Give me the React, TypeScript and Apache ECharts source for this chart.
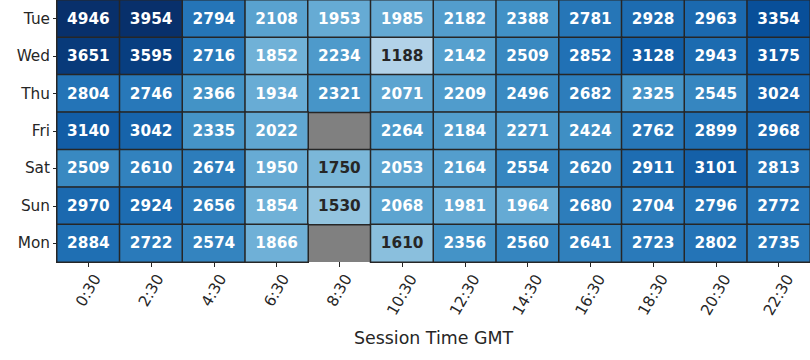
import React, { useEffect, useRef } from "react";
import * as echarts from "echarts";

const hours = ["0:30", "2:30", "4:30", "6:30", "8:30", "10:30", "12:30", "14:30", "16:30", "18:30", "20:30", "22:30"];
const days = ["Tue", "Wed", "Thu", "Fri", "Sat", "Sun", "Mon"];

const tue = [4946, 3954, 2794, 2108, 1953, 1985, 2182, 2388, 2781, 2928, 2963, 3354];
const wed = [3651, 3595, 2716, 1852, 2234, 1188, 2142, 2509, 2852, 3128, 2943, 3175];
const thu = [2804, 2746, 2366, 1934, 2321, 2071, 2209, 2496, 2682, 2325, 2545, 3024];
const fri = [3140, 3042, 2335, 2022, null, 2264, 2184, 2271, 2424, 2762, 2899, 2968];
const sat = [2509, 2610, 2674, 1950, 1750, 2053, 2164, 2554, 2620, 2911, 3101, 2813];
const sun = [2970, 2924, 2656, 1854, 1530, 2068, 1981, 1964, 2680, 2704, 2796, 2772];
const mon = [2884, 2722, 2574, 1866, null, 1610, 2356, 2560, 2641, 2723, 2802, 2735];

const rows: (number | null)[][] = [tue, wed, thu, fri, sat, sun, mon];

const BLUES = ["#f7fbff", "#deebf7", "#c6dbef", "#9ecae1", "#6baed6", "#4292c6", "#2171b5", "#08519c", "#08306b"];
const VMIN = 0;
const VMAX = 3800;

function hexToRgb(h: string): number[] {
  return [parseInt(h.slice(1, 3), 16), parseInt(h.slice(3, 5), 16), parseInt(h.slice(5, 7), 16)];
}

function bluesColor(v: number): number[] {
  let t = (v - VMIN) / (VMAX - VMIN);
  t = Math.max(0, Math.min(1, t));
  const pos = t * (BLUES.length - 1);
  const i = Math.min(BLUES.length - 2, Math.floor(pos));
  const f = pos - i;
  const a = hexToRgb(BLUES[i]);
  const b = hexToRgb(BLUES[i + 1]);
  return [0, 1, 2].map((k) => Math.round(a[k] + (b[k] - a[k]) * f));
}

function lum(rgb: number[]): number {
  const lin = rgb.map((c) => {
    const s = c / 255;
    return s <= 0.03928 ? s / 12.92 : Math.pow((s + 0.055) / 1.055, 2.4);
  });
  return 0.2126 * lin[0] + 0.7152 * lin[1] + 0.0722 * lin[2];
}

export default function App() {
  const ref = useRef<HTMLDivElement>(null);
  useEffect(() => {
    document.body.style.margin = "0";
    if (!ref.current) return;
    const chart = echarts.init(ref.current, null, { renderer: "svg" });
    const data: any[] = [];
    rows.forEach((row, yi) => {
      row.forEach((v, xi) => {
        if (v === null) return;
        const rgb = bluesColor(v);
        const txt = lum(rgb) > 0.408 ? "#262626" : "#ffffff";
        data.push({
          value: [xi, yi, v],
          label: { color: txt },
        });
      });
    });
    const tickFont = { fontFamily: "DejaVu Sans", fontSize: 15.3, color: "#262626" };
    chart.setOption({
      animation: false,
      backgroundColor: "#ffffff",
      grid: {
        left: 57,
        right: 0,
        top: 0,
        bottom: 98,
        show: true,
        backgroundColor: "#808080",
        borderWidth: 0,
      },
      visualMap: {
        type: "continuous",
        show: false,
        min: VMIN,
        max: VMAX,
        dimension: 2,
        inRange: { color: BLUES },
        outOfRange: { color: "#08306b" },
      },
      xAxis: {
        type: "category",
        data: hours,
        name: "Session Time GMT",
        nameLocation: "middle",
        nameGap: 67,
        nameTextStyle: { fontFamily: "DejaVu Sans", fontSize: 17.4, color: "#262626" },
        axisLine: { show: false },
        axisTick: { show: true, alignWithLabel: true, length: 5, lineStyle: { color: "#262626", width: 1 } },
        axisLabel: {
          rotate: 60,
          align: "center",
          verticalAlign: "middle",
          margin: 33,
          ...tickFont,
          formatter: (v: string) => (v.length <= 4 ? `{s|${v}}` : `{l|${v}}`),
          rich: {
            s: { ...tickFont, padding: [0, 0, 4.5, 7.8] },
            l: { ...tickFont },
          },
        },
        splitLine: { show: false },
        splitArea: { show: false },
      },
      yAxis: {
        type: "category",
        data: days,
        inverse: true,
        axisLine: { show: false },
        axisTick: { show: true, alignWithLabel: true, length: 4, lineStyle: { color: "#262626", width: 1 } },
        axisLabel: { ...tickFont, margin: 7 },
        splitLine: { show: false },
        splitArea: { show: false },
      },
      series: [
        {
          type: "heatmap",
          data,
          itemStyle: { borderColor: "#262626", borderWidth: 1.5 },
          label: {
            show: true,
            fontFamily: "DejaVu Sans",
            fontWeight: "bold",
            fontSize: 15.3,
            formatter: (p: any) => String(p.value[2]),
          },
          emphasis: { disabled: true },
        },
      ],
    });
    return () => chart.dispose();
  }, []);
  return <div ref={ref} style={{ width: 810, height: 360 }} />;
}
